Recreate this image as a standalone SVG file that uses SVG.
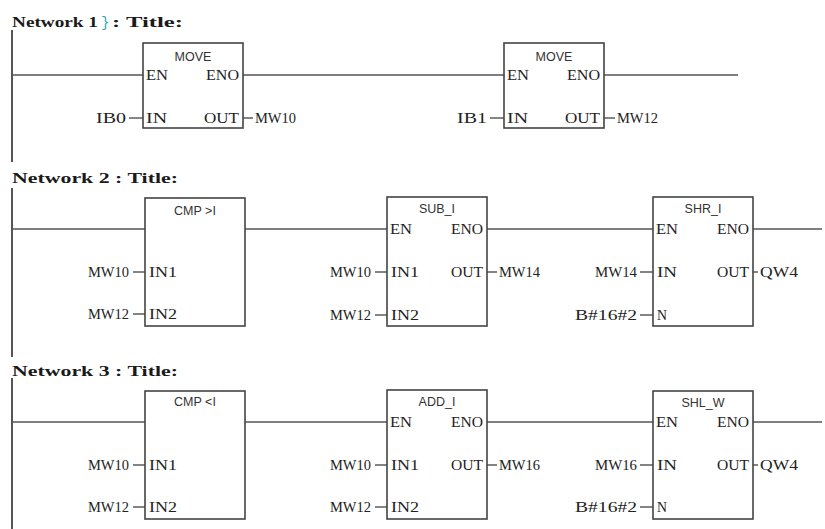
<svg xmlns="http://www.w3.org/2000/svg" width="825" height="529" viewBox="0 0 825 529">
<style>
.bg{fill:#fff}
.rail{stroke:#555;stroke-width:2;fill:none}
.wire{stroke:#555;stroke-width:1.6;fill:none}
.stub{stroke:#333;stroke-width:1.2;fill:none}
.box{fill:#fff;stroke:#444;stroke-width:1.6}
.ttl{font-family:"Liberation Serif","Times New Roman",serif;font-weight:bold;font-size:15px;fill:#1a1a1a}
.pin{font-family:"Liberation Serif","Times New Roman",serif;font-size:15px;fill:#222}
.lbl{font-family:"Liberation Serif","Times New Roman",serif;font-size:15px;fill:#222}
.end{text-anchor:end}
.hd{font-family:"Liberation Sans",Arial,sans-serif;font-size:12.5px;fill:#333;text-anchor:middle}
.cur{font-family:"Liberation Mono",monospace;font-size:14px;fill:#2aa6b8}
</style>
<rect class="bg" x="0" y="0" width="825" height="529"/>

<g id="titles">
<text class="ttl" x="12" y="27" textLength="86" lengthAdjust="spacingAndGlyphs">Network 1</text>
<text class="cur" x="101" y="27">}</text>
<text class="ttl" x="112" y="27" textLength="71" lengthAdjust="spacingAndGlyphs">: Title:</text>
<text class="ttl" x="12" y="183" textLength="166" lengthAdjust="spacingAndGlyphs">Network 2 : Title:</text>
<text class="ttl" x="12" y="376" textLength="166" lengthAdjust="spacingAndGlyphs">Network 3 : Title:</text>
</g>

<g id="connectors">
<line class="rail" x1="12" y1="30" x2="12" y2="162"/>
<line class="rail" x1="12" y1="188" x2="12" y2="357"/>
<line class="rail" x1="12" y1="378" x2="12" y2="529"/>
<line class="wire" x1="12" y1="75" x2="143" y2="75"/>
<line class="wire" x1="243" y1="75" x2="504" y2="75"/>
<line class="wire" x1="604" y1="75" x2="738" y2="75"/>
<line class="stub" x1="129" y1="118" x2="143" y2="118"/>
<line class="stub" x1="243" y1="118" x2="253" y2="118"/>
<line class="stub" x1="490" y1="118" x2="504" y2="118"/>
<line class="stub" x1="604" y1="118" x2="615" y2="118"/>
<line class="wire" x1="12" y1="229" x2="145" y2="229"/>
<line class="wire" x1="245" y1="229" x2="387" y2="229"/>
<line class="wire" x1="487" y1="229" x2="653" y2="229"/>
<line class="wire" x1="753" y1="229" x2="822" y2="229"/>
<line class="stub" x1="133" y1="272" x2="145" y2="272"/>
<line class="stub" x1="133" y1="314" x2="145" y2="314"/>
<line class="stub" x1="375" y1="272" x2="387" y2="272"/>
<line class="stub" x1="375" y1="315" x2="387" y2="315"/>
<line class="stub" x1="487" y1="272" x2="497" y2="272"/>
<line class="stub" x1="640" y1="272" x2="653" y2="272"/>
<line class="stub" x1="640" y1="315" x2="653" y2="315"/>
<line class="stub" x1="753" y1="272" x2="758" y2="272"/>
<line class="wire" x1="12" y1="422" x2="145" y2="422"/>
<line class="wire" x1="245" y1="422" x2="387" y2="422"/>
<line class="wire" x1="487" y1="422" x2="653" y2="422"/>
<line class="wire" x1="753" y1="422" x2="822" y2="422"/>
<line class="stub" x1="133" y1="465" x2="145" y2="465"/>
<line class="stub" x1="133" y1="507" x2="145" y2="507"/>
<line class="stub" x1="375" y1="465" x2="387" y2="465"/>
<line class="stub" x1="375" y1="507" x2="387" y2="507"/>
<line class="stub" x1="487" y1="465" x2="497" y2="465"/>
<line class="stub" x1="640" y1="465" x2="653" y2="465"/>
<line class="stub" x1="640" y1="507" x2="653" y2="507"/>
<line class="stub" x1="753" y1="465" x2="758" y2="465"/>
</g>

<g id="move1">
<rect class="box" x="143" y="43" width="100" height="85"/>
<text class="hd" x="193" y="61">MOVE</text>
<text class="pin" x="146" y="80" textLength="22" lengthAdjust="spacingAndGlyphs">EN</text>
<text class="pin end" x="239" y="80" textLength="33" lengthAdjust="spacingAndGlyphs">ENO</text>
<text class="pin" x="146" y="123" textLength="21" lengthAdjust="spacingAndGlyphs">IN</text>
<text class="pin end" x="239" y="123" textLength="35" lengthAdjust="spacingAndGlyphs">OUT</text>
<text class="lbl end" x="126" y="123" textLength="30" lengthAdjust="spacingAndGlyphs">IB0</text>
<text class="lbl" x="255" y="123" textLength="41" lengthAdjust="spacingAndGlyphs">MW10</text>
</g>

<g id="move2">
<rect class="box" x="504" y="43" width="100" height="85"/>
<text class="hd" x="554" y="61">MOVE</text>
<text class="pin" x="507" y="80" textLength="22" lengthAdjust="spacingAndGlyphs">EN</text>
<text class="pin end" x="600" y="80" textLength="33" lengthAdjust="spacingAndGlyphs">ENO</text>
<text class="pin" x="507" y="123" textLength="21" lengthAdjust="spacingAndGlyphs">IN</text>
<text class="pin end" x="600" y="123" textLength="35" lengthAdjust="spacingAndGlyphs">OUT</text>
<text class="lbl end" x="487" y="123" textLength="30" lengthAdjust="spacingAndGlyphs">IB1</text>
<text class="lbl" x="617" y="123" textLength="41" lengthAdjust="spacingAndGlyphs">MW12</text>
</g>

<g id="cmp_gt">
<rect class="box" x="145" y="198" width="100" height="128"/>
<text class="hd" x="195" y="215">CMP &gt;I</text>
<text class="pin" x="149" y="277" textLength="28" lengthAdjust="spacingAndGlyphs">IN1</text>
<text class="pin" x="149" y="319" textLength="28" lengthAdjust="spacingAndGlyphs">IN2</text>
<text class="lbl end" x="129" y="277" textLength="41" lengthAdjust="spacingAndGlyphs">MW10</text>
<text class="lbl end" x="129" y="319" textLength="41" lengthAdjust="spacingAndGlyphs">MW12</text>
</g>

<g id="sub_i">
<rect class="box" x="387" y="197" width="100" height="129"/>
<text class="hd" x="437" y="213">SUB_I</text>
<text class="pin" x="390" y="234" textLength="22" lengthAdjust="spacingAndGlyphs">EN</text>
<text class="pin end" x="483" y="234" textLength="32" lengthAdjust="spacingAndGlyphs">ENO</text>
<text class="pin" x="391" y="277" textLength="28" lengthAdjust="spacingAndGlyphs">IN1</text>
<text class="pin end" x="483" y="277" textLength="32" lengthAdjust="spacingAndGlyphs">OUT</text>
<text class="pin" x="391" y="320" textLength="28" lengthAdjust="spacingAndGlyphs">IN2</text>
<text class="lbl end" x="371" y="277" textLength="41" lengthAdjust="spacingAndGlyphs">MW10</text>
<text class="lbl end" x="371" y="320" textLength="41" lengthAdjust="spacingAndGlyphs">MW12</text>
<text class="lbl" x="499" y="277" textLength="41" lengthAdjust="spacingAndGlyphs">MW14</text>
</g>

<g id="shr_i">
<rect class="box" x="653" y="197" width="100" height="129"/>
<text class="hd" x="703" y="213">SHR_I</text>
<text class="pin" x="656" y="234" textLength="22" lengthAdjust="spacingAndGlyphs">EN</text>
<text class="pin end" x="749" y="234" textLength="32" lengthAdjust="spacingAndGlyphs">ENO</text>
<text class="pin" x="657" y="277" textLength="20" lengthAdjust="spacingAndGlyphs">IN</text>
<text class="pin end" x="749" y="277" textLength="32" lengthAdjust="spacingAndGlyphs">OUT</text>
<text class="pin" x="657" y="320" textLength="10" lengthAdjust="spacingAndGlyphs">N</text>
<text class="lbl end" x="637" y="277" textLength="42" lengthAdjust="spacingAndGlyphs">MW14</text>
<text class="lbl end" x="637" y="320" textLength="62" lengthAdjust="spacingAndGlyphs">B#16#2</text>
<text class="lbl" x="760" y="277" textLength="38" lengthAdjust="spacingAndGlyphs">QW4</text>
</g>

<g id="cmp_lt">
<rect class="box" x="145" y="391" width="100" height="128"/>
<text class="hd" x="195" y="406">CMP &lt;I</text>
<text class="pin" x="149" y="470" textLength="28" lengthAdjust="spacingAndGlyphs">IN1</text>
<text class="pin" x="149" y="512" textLength="28" lengthAdjust="spacingAndGlyphs">IN2</text>
<text class="lbl end" x="129" y="470" textLength="41" lengthAdjust="spacingAndGlyphs">MW10</text>
<text class="lbl end" x="129" y="512" textLength="41" lengthAdjust="spacingAndGlyphs">MW12</text>
</g>

<g id="add_i">
<rect class="box" x="387" y="390" width="100" height="129"/>
<text class="hd" x="437" y="406">ADD_I</text>
<text class="pin" x="390" y="427" textLength="22" lengthAdjust="spacingAndGlyphs">EN</text>
<text class="pin end" x="483" y="427" textLength="32" lengthAdjust="spacingAndGlyphs">ENO</text>
<text class="pin" x="391" y="470" textLength="28" lengthAdjust="spacingAndGlyphs">IN1</text>
<text class="pin end" x="483" y="470" textLength="32" lengthAdjust="spacingAndGlyphs">OUT</text>
<text class="pin" x="391" y="512" textLength="28" lengthAdjust="spacingAndGlyphs">IN2</text>
<text class="lbl end" x="371" y="470" textLength="41" lengthAdjust="spacingAndGlyphs">MW10</text>
<text class="lbl end" x="371" y="512" textLength="41" lengthAdjust="spacingAndGlyphs">MW12</text>
<text class="lbl" x="499" y="470" textLength="41" lengthAdjust="spacingAndGlyphs">MW16</text>
</g>

<g id="shl_w">
<rect class="box" x="653" y="391" width="100" height="128"/>
<text class="hd" x="703" y="407">SHL_W</text>
<text class="pin" x="656" y="427" textLength="22" lengthAdjust="spacingAndGlyphs">EN</text>
<text class="pin end" x="749" y="427" textLength="32" lengthAdjust="spacingAndGlyphs">ENO</text>
<text class="pin" x="657" y="470" textLength="20" lengthAdjust="spacingAndGlyphs">IN</text>
<text class="pin end" x="749" y="470" textLength="32" lengthAdjust="spacingAndGlyphs">OUT</text>
<text class="pin" x="657" y="512" textLength="10" lengthAdjust="spacingAndGlyphs">N</text>
<text class="lbl end" x="637" y="470" textLength="42" lengthAdjust="spacingAndGlyphs">MW16</text>
<text class="lbl end" x="637" y="512" textLength="62" lengthAdjust="spacingAndGlyphs">B#16#2</text>
<text class="lbl" x="760" y="470" textLength="38" lengthAdjust="spacingAndGlyphs">QW4</text>
</g>
</svg>
